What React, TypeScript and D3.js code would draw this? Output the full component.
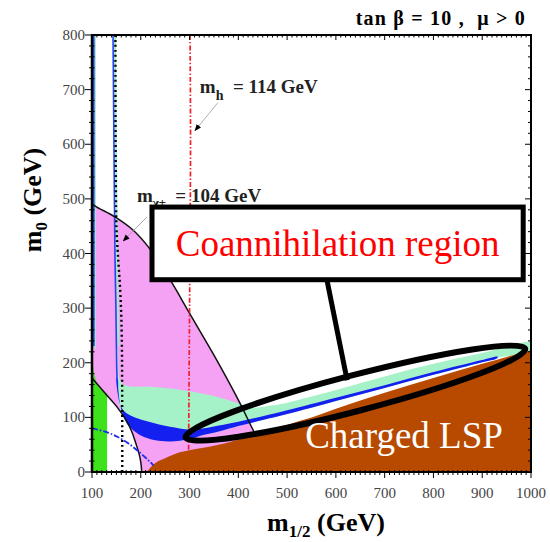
import React, { useEffect, useRef } from 'react';
import * as d3 from 'd3';

const width = 550;
const height = 542;

// axes (GeV)
const xTicks = [100, 200, 300, 400, 500, 600, 700, 800, 900, 1000];
const yTicks = [0, 100, 200, 300, 400, 500, 600, 700, 800];

// g-2 favoured band, outer and inner edges  [m_1/2, m_0]
const gm2Outer = [[100, 491], [110, 485], [147, 467], [184, 443], [219, 408], [260, 352], [301, 289], [350, 214], [397, 137], [428, 81], [440, 59]];
const gm2Inner = [[100, 172], [130, 141], [153, 117], [170, 95], [181, 75], [190, 52], [196, 35], [200, 18], [202, 0]];

// b -> s gamma excluded
const bsgEdge = [[100, 214], [102, 195], [105, 178], [109, 165], [114, 156], [120, 150], [131, 144]];

// stau (charged) LSP boundary
const stauEdge = [[212, 0], [225, 13], [250, 25], [280, 36], [300, 40], [350, 48], [383, 55], [400, 59], [450, 70], [485, 80], [500, 86], [550, 100], [600, 116], [700, 145], [800, 172], [900, 198], [1000, 223]];

// 0.1 < Omega h^2 < 0.3
const relicRegion = [[152, 230], [154, 200], [156, 172], [162, 162], [175, 157], [220, 156], [260, 153], [300, 148], [350, 139], [400, 126], [430, 118], [470, 122], [500, 127], [600, 150], [700, 175], [800, 198], [900, 218], [1010, 238], [1010, 224],
  [930, 209], [900, 201], [800, 178], [700, 154], [600, 130], [500, 106], [450, 95], [400, 84], [360, 74], [330, 68], [300, 60], [260, 57], [230, 60], [200, 70], [185, 78], [170, 90], [160, 110], [155, 130], [152, 160], [150, 230]];
const relicStrip = [[147, 810], [149, 600], [151, 400], [153, 300], [154, 230]];
const relicLeftStrip = [[106.5, 810], [106.5, 225]];

// WMAP 0.094 < Omega h^2 < 0.129
const wmapBand = [[150.5, 172], [153, 142], [158, 123], [166, 111], [180, 103], [200, 96], [230, 89], [260, 83], [300, 78], [330, 80], [360, 85], [400, 92], [450, 102], [500, 113], [600, 136], [700, 159], [800, 183], [900, 205], [932, 211],
  [930, 208], [900, 201], [800, 178], [700, 154], [600, 130], [500, 106], [450, 95], [400, 84], [360, 74], [330, 68], [300, 60], [260, 56], [230, 58], [200, 67], [185, 76], [172, 88], [163, 106], [157, 127], [154, 150], [152.5, 172]];
const wmapStrip = [[143, 810], [145, 600], [147, 400], [149, 300], [150.5, 200], [151.5, 165]];
const wmapLeftStrip = [[103.5, 810], [103.5, 230]];

// other contours
const higgsLine = [[301, 800], [302, 600], [300, 300], [298, 40]];
const charginoLine = [[148, 800], [150, 450], [153, 400], [158, 330], [161, 250], [162, 0]];
const blueDashDot = [[100, 80], [130, 73], [153, 64], [175, 52], [195, 38], [215, 22], [226, 12]];

// annotations (data coords)
const higgsLabel = [321, 694];
const higgsPointer = [[358, 676], [311, 625]];
const charginoLabel = [192, 495];
const charginoPointer = [[213, 467], [164, 423]];
const coannBox = [[223, 485], [984, 352]];
const coannLink = [[582, 350], [623, 168]];
const coannTips = [[286, 62], [994, 227]];
const chargedLabel = [537, 44];

const serif = "'Liberation Serif', 'Times New Roman', Times, 'DejaVu Serif', serif";

const CmssmPlane = () => {
  const ref = useRef<SVGSVGElement>(null);

  useEffect(() => {
    if (!ref.current) return;
    const svg = d3.select(ref.current);
    svg.selectAll('*').remove();

    const x = d3.scaleLinear().domain([100, 1000]).range([92, 531]);
    const y = d3.scaleLinear().domain([0, 800]).range([472, 35]);
    const [x0, x1] = x.range();
    const [y0, y1] = y.range();

    svg.append('rect').attr('width', width).attr('height', height).attr('fill', '#fff');

    const defs = svg.append('defs');
    defs.append('clipPath').attr('id', 'plotclip')
      .append('rect').attr('x', x0).attr('y', y1).attr('width', x1 - x0).attr('height', y0 - y1);
    const arrow = defs.append('marker')
      .attr('id', 'tip').attr('viewBox', '0 0 10 10').attr('refX', 9).attr('refY', 5)
      .attr('markerWidth', 7).attr('markerHeight', 7).attr('markerUnits', 'userSpaceOnUse').attr('orient', 'auto');
    arrow.append('path').attr('d', 'M0,1 L10,5 L0,9 Z').attr('fill', '#000');

    const plot = svg.append('g').attr('clip-path', 'url(#plotclip)');

    const under = (pts: number[][]) =>
      d3.area<number[]>().x(d => x(d[0])).y0(y(0)).y1(d => y(d[1])).curve(d3.curveMonotoneX)(pts);
    const poly = (pts: number[][]) =>
      d3.line<number[]>().x(d => x(d[0])).y(d => y(d[1])).curve(d3.curveCatmullRomClosed.alpha(0.5))(pts);
    const curve = (pts: number[][]) =>
      d3.line<number[]>().x(d => x(d[0])).y(d => y(d[1])).curve(d3.curveCatmullRom.alpha(0.5))(pts);

    // g-2 region (pink), hollowed by inner edge
    plot.append('path').attr('d', under(gm2Outer)).attr('fill', '#f6a2f4');
    plot.append('path').attr('d', under(gm2Inner)).attr('fill', '#fff');
    // b->s gamma
    plot.append('path').attr('d', under(bsgEdge)).attr('fill', '#3ee21a');
    // relic density
    plot.append('path').attr('d', poly(relicRegion)).attr('fill', '#a6f2c8');
    plot.append('path').attr('d', curve(relicStrip)).attr('fill', 'none').attr('stroke', '#9eeec4').attr('stroke-width', 2);
    plot.append('path').attr('d', curve(relicLeftStrip)).attr('fill', 'none').attr('stroke', '#9eeec4').attr('stroke-width', 1.5);
    plot.append('path').attr('d', poly(wmapBand)).attr('fill', '#1420f0');
    plot.append('path').attr('d', curve(wmapStrip)).attr('fill', 'none').attr('stroke', '#2a40f4').attr('stroke-width', 1.6);
    plot.append('path').attr('d', curve(wmapLeftStrip)).attr('fill', 'none').attr('stroke', '#2a40f4').attr('stroke-width', 1.8);
    // stau LSP
    plot.append('path').attr('d', under(stauEdge)).attr('fill', '#b84a00');

    // contours
    plot.append('path').attr('d', curve(gm2Outer.slice(0, -1).concat([[436, 67]])))
      .attr('fill', 'none').attr('stroke', '#111').attr('stroke-width', 1.5);
    plot.append('path').attr('d', curve(gm2Inner))
      .attr('fill', 'none').attr('stroke', '#111').attr('stroke-width', 1.5);
    plot.append('path').attr('d', curve(higgsLine))
      .attr('fill', 'none').attr('stroke', '#f0202a').attr('stroke-width', 1.7)
      .attr('stroke-dasharray', '5,2,1.5,2');
    plot.append('path').attr('d', curve(charginoLine))
      .attr('fill', 'none').attr('stroke', '#000').attr('stroke-width', 2.4)
      .attr('stroke-dasharray', '2,3');
    plot.append('path').attr('d', curve(blueDashDot))
      .attr('fill', 'none').attr('stroke', '#1a2cf0').attr('stroke-width', 1.8)
      .attr('stroke-dasharray', '6,2,1.5,2');

    // frame + ticks
    const axes = svg.append('g').attr('stroke', '#000');
    axes.append('rect').attr('x', x0).attr('y', y1).attr('width', x1 - x0).attr('height', y0 - y1)
      .attr('fill', 'none').attr('stroke-width', 2);
    axes.append('line').attr('x1', x0).attr('x2', x0).attr('y1', y1).attr('y2', y0).attr('stroke-width', 2.5);

    const xMinor = d3.range(100, 1001, 10);
    const yMinor = d3.range(0, 801, 20);
    xMinor.forEach(v => {
      const major = v % 100 === 0;
      axes.append('line').attr('x1', x(v)).attr('x2', x(v))
        .attr('y1', y0 - (major ? 0 : 2)).attr('y2', y0 + (major ? 6 : 3)).attr('stroke-width', 1);
      axes.append('line').attr('x1', x(v)).attr('x2', x(v))
        .attr('y1', y1).attr('y2', y1 + (major ? 5 : 2.5)).attr('stroke-width', 1);
    });
    yMinor.forEach(v => {
      const major = v % 100 === 0;
      axes.append('line').attr('y1', y(v)).attr('y2', y(v))
        .attr('x1', x0 - (major ? 7 : 3)).attr('x2', x0 + (major ? 0 : 2.5)).attr('stroke-width', 1);
      axes.append('line').attr('y1', y(v)).attr('y2', y(v))
        .attr('x1', x1).attr('x2', x1 - (major ? 6 : 3)).attr('stroke-width', 1);
    });

    svg.append('g').selectAll('text').data(xTicks).join('text')
      .attr('x', d => x(d)).attr('y', y0 + 26).attr('text-anchor', 'middle')
      .style('font-family', serif).attr('font-size', 15).attr('fill', '#444')
      .text(d => d);
    svg.append('g').selectAll('text').data(yTicks).join('text')
      .attr('x', x0 - 7).attr('y', d => y(d) + 5).attr('text-anchor', 'end')
      .style('font-family', serif).attr('font-size', 15).attr('fill', '#444')
      .text(d => d);

    // axis titles
    const xt = svg.append('text').attr('x', 326).attr('y', 531).attr('text-anchor', 'middle')
      .style('font-family', serif).attr('font-size', 26).attr('font-weight', 'bold');
    xt.append('tspan').text('m');
    xt.append('tspan').attr('dy', 6).attr('font-size', 17).text('1/2');
    xt.append('tspan').attr('dy', -6).text(' (GeV)');

    const yt = svg.append('text').attr('transform', 'translate(41,200) rotate(-90)')
      .attr('text-anchor', 'middle')
      .style('font-family', serif).attr('font-size', 26).attr('font-weight', 'bold');
    yt.append('tspan').text('m');
    yt.append('tspan').attr('dy', 6).attr('font-size', 17).text('0');
    yt.append('tspan').attr('dy', -6).text(' (GeV)');

    svg.append('text').attr('x', 526).attr('y', 25).attr('text-anchor', 'end')
      .style('font-family', serif).attr('font-size', 20).attr('font-weight', 'bold')
      .attr('letter-spacing', 1.2)
      .style('white-space', 'pre').text('tan \u03b2 = 10 ,  \u03bc > 0');

    // line labels
    const hl = svg.append('text').attr('x', x(higgsLabel[0])).attr('y', y(higgsLabel[1]))
      .style('font-family', serif).attr('font-size', 19).attr('font-weight', 'bold').attr('fill', '#222')
      .style('white-space', 'pre');
    hl.append('tspan').text('m');
    hl.append('tspan').attr('dy', 7).attr('font-size', 14).text('h');
    hl.append('tspan').attr('dy', -7).text('  = 114 GeV');
    svg.append('line')
      .attr('x1', x(higgsPointer[0][0])).attr('y1', y(higgsPointer[0][1]))
      .attr('x2', x(higgsPointer[1][0])).attr('y2', y(higgsPointer[1][1]))
      .attr('stroke', '#999').attr('stroke-width', 0.8).attr('marker-end', 'url(#tip)');

    const cl = svg.append('text').attr('x', x(charginoLabel[0])).attr('y', y(charginoLabel[1]))
      .style('font-family', serif).attr('font-size', 19).attr('font-weight', 'bold').attr('fill', '#222')
      .style('white-space', 'pre');
    cl.append('tspan').text('m');
    cl.append('tspan').attr('dy', 5).attr('font-size', 13).text('\u03c7\u00b1');
    cl.append('tspan').attr('dy', -5).text('  = 104 GeV');
    svg.append('line')
      .attr('x1', x(charginoPointer[0][0])).attr('y1', y(charginoPointer[0][1]))
      .attr('x2', x(charginoPointer[1][0])).attr('y2', y(charginoPointer[1][1]))
      .attr('stroke', '#999').attr('stroke-width', 0.8).attr('marker-end', 'url(#tip)');

    // coannihilation callout
    const bx0 = x(coannBox[0][0]), by0 = y(coannBox[0][1]);
    const bx1 = x(coannBox[1][0]), by1 = y(coannBox[1][1]);
    svg.append('rect').attr('x', bx0).attr('y', by0).attr('width', bx1 - bx0).attr('height', by1 - by0)
      .attr('fill', '#fff').attr('stroke', '#000').attr('stroke-width', 5);
    svg.append('text').attr('x', (bx0 + bx1) / 2).attr('y', (by0 + by1) / 2 + 13)
      .attr('text-anchor', 'middle').style('font-family', serif).attr('font-size', 37).attr('fill', '#ff0000')
      .text('Coannihilation region');
    svg.append('line')
      .attr('x1', x(coannLink[0][0])).attr('y1', y(coannLink[0][1]))
      .attr('x2', x(coannLink[1][0])).attr('y2', y(coannLink[1][1]))
      .attr('stroke', '#000').attr('stroke-width', 5);

    const ax = x(coannTips[0][0]), ay = y(coannTips[0][1]);
    const bx = x(coannTips[1][0]), by = y(coannTips[1][1]);
    const len = Math.hypot(bx - ax, by - ay);
    const ang = (Math.atan2(by - ay, bx - ax) * 180) / Math.PI;
    svg.append('ellipse')
      .attr('transform', `translate(${(ax + bx) / 2},${(ay + by) / 2}) rotate(${ang})`)
      .attr('rx', len / 2 - 3).attr('ry', 18)
      .attr('fill', 'none').attr('stroke', '#000').attr('stroke-width', 6);

    svg.append('text').attr('x', x(chargedLabel[0])).attr('y', y(chargedLabel[1]))
      .style('font-family', serif).attr('font-size', 37).attr('fill', '#fff')
      .text('Charged LSP');
  }, []);

  return (
    <svg ref={ref} width={width} height={height}
      style={{ position: 'absolute', left: 0, top: 0, display: 'block' }} />
  );
};

export default function App() {
  return <CmssmPlane />;
}
